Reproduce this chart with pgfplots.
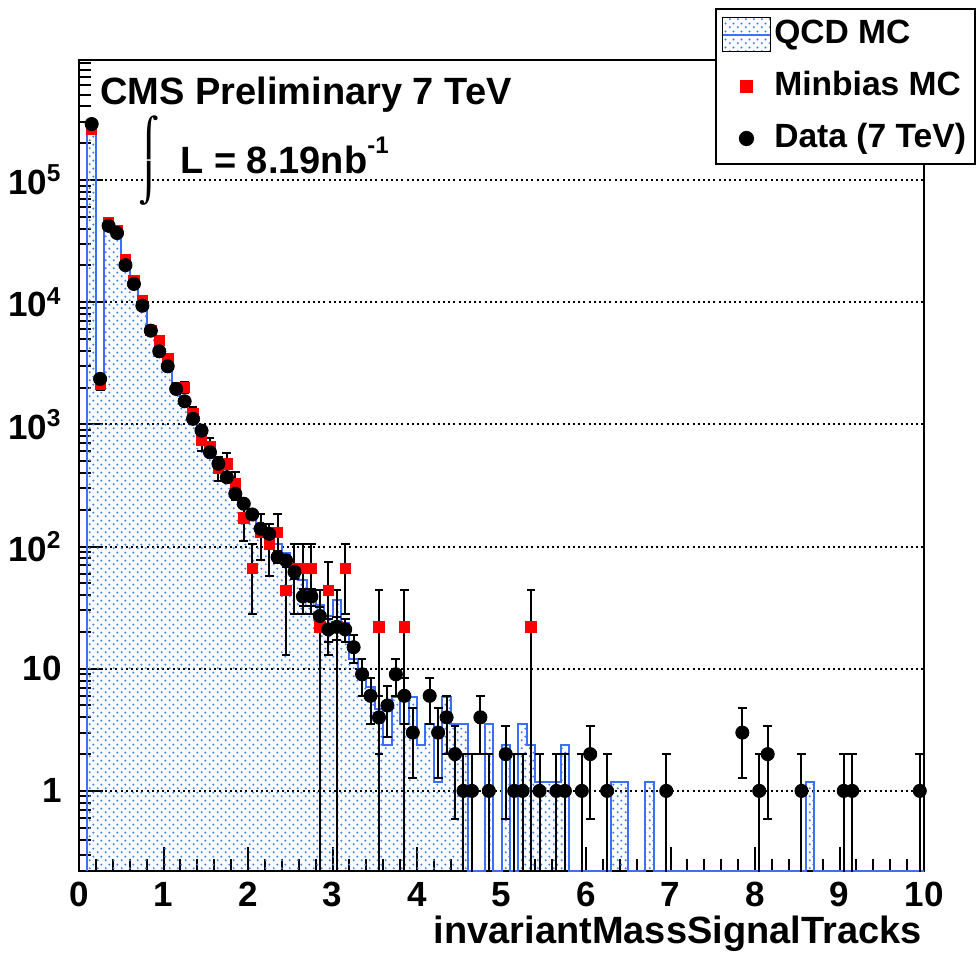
\documentclass[border=0pt]{standalone}
\usepackage{fontspec}
\setmainfont{Liberation Sans}
\newfontfamily\djv{DejaVu Sans}
\usepackage{pgfplots}
\pgfplotsset{compat=1.18}
\usetikzlibrary{patterns.meta}
\definecolor{qcdblue}{RGB}{60,110,255}
\definecolor{qcddot}{RGB}{70,125,255}
\tikzdeclarepattern{
  name=mydots,
  type=uncolored,
  bottom left={(0pt,0pt)},
  top right={(4pt,4pt)},
  tile size={(4pt,4pt)},
  code={
    \pgfpathcircle{\pgfpoint{1pt}{1pt}}{0.62pt}
    \pgfpathcircle{\pgfpoint{3pt}{3pt}}{0.62pt}
    \pgfusepath{fill}
  }
}
\begin{document}
\begin{tikzpicture}
\begin{axis}[
  name=ax, at={(0,0)}, anchor=south west,
  scale only axis, width=422.5pt, height=405.5pt,
  ymode=log, xmin=0, xmax=10, ymin=0.221, ymax=9.6e5,
  axis line style={line width=1pt},
  tick pos=left, tick align=inside,
  xtick={0,1,2,3,4,5,6,7,8,9,10},
  xticklabels={0,1,2,3,4,5,6,7,8,9,10},
  minor x tick num=4,
  ytick={1,10,100,1000,10000,100000},
  yticklabels={1,10,10\textsuperscript{2},10\textsuperscript{3},10\textsuperscript{4},10\textsuperscript{5}},
  minor ytick={0.3,0.4,0.5,0.6,0.7,0.8,0.9,2,3,4,5,6,7,8,9,20,30,40,50,60,70,80,90,200,300,400,500,600,700,800,900,2000,3000,4000,5000,6000,7000,8000,9000,20000,30000,40000,50000,60000,70000,80000,90000,200000,300000,400000,500000,600000,700000,800000,900000},
  major tick length=12pt, minor tick length=6pt,
  tick style={black, line width=1pt},
  ymajorgrids,
  major grid style={black, line width=1pt, dash pattern=on 1pt off 1.6pt},
  every tick label/.append style={font=\fontsize{17.5}{20}\selectfont\bfseries},
  xticklabel style={anchor=north, inner sep=0pt, yshift=-5.5pt},
  yticklabel style={anchor=east, inner sep=0pt, xshift=-8.5pt},
  legend style={at={(1.0615,1.0641)}, anchor=north east, draw=black, line width=1pt, fill=white,
    font=\fontsize{16.8}{19}\selectfont\bfseries, inner xsep=3pt, inner ysep=3.5pt, row sep=7.5pt,
    nodes={inner sep=1.5pt, text height=12pt, text depth=3.5pt},
    /tikz/every even column/.append style={column sep=3pt}},
  legend cell align=left,
]
% QCD MC histogram (bin left edges, step)
\addplot[const plot, draw=qcdblue, line width=1pt, pattern=mydots, pattern color=qcddot,
  legend image code/.code={\draw[black,line width=0.8pt,pattern=mydots,pattern color=qcddot] (0pt,-8.5pt) rectangle (24pt,8.5pt); \draw[qcdblue,line width=1pt] (0.4pt,0pt) -- (23.6pt,0pt);}]
coordinates {
(0.1,0.221) (0.1,270000) (0.2,2200) (0.3,41000) (0.4,36300) (0.5,20500) (0.6,13800)
(0.7,9300) (0.8,6000) (0.9,4100) (1.0,3000) (1.1,2000) (1.2,1500) (1.3,1100) (1.4,850)
(1.5,620) (1.6,470) (1.7,360) (1.8,270) (1.9,215) (2.0,175) (2.1,140) (2.2,112) (2.3,105)
(2.4,88) (2.5,65) (2.6,53) (2.7,43) (2.8,33) (2.9,27) (3.0,36.6) (3.1,23.6) (3.2,12.1)
(3.3,9.4) (3.4,7.1) (3.5,4.72) (3.6,2.36) (3.7,5.9) (3.8,3.54) (3.9,5.9) (4.0,2.36)
(4.1,3.54) (4.2,1.18) (4.3,5.9) (4.4,3.54) (4.5,3.54) (4.6,0.221) (4.8,3.54) (4.9,0.221)
(5.0,2.36) (5.1,0.221) (5.2,3.54) (5.3,2.36) (5.4,1.18) (5.7,2.36) (5.8,0.221)
(6.3,1.18) (6.5,0.221) (6.7,1.18) (6.8,0.221) (8.6,1.18) (8.7,0.221) (10,0.221)
};
\addlegendentry{QCD MC}
% Minbias MC
\addplot[only marks, mark=square*, mark size=2.6pt, red,
  legend image code/.code={\draw[mark repeat=2,mark phase=2] plot coordinates {(0pt,0pt) (12pt,0pt) (24pt,0pt)};},
  error bars/.cd, y dir=both, y explicit,
  error bar style={black, line width=1pt},
  error mark options={rotate=90, black, line width=1pt, mark size=2.2pt}]
coordinates {
(0.15,260000) += (0,2392) -= (0,2392)
(0.25,2140) += (0,217) -= (0,217)
(0.35,44900) += (0,994) -= (0,994)
(0.45,38500) += (0,920) -= (0,920)
(0.55,22500) += (0,704) -= (0,704)
(0.65,15000) += (0,574) -= (0,574)
(0.75,10300) += (0,476) -= (0,476)
(0.85,5900) += (0,360) -= (0,360)
(0.95,4840) += (0,326) -= (0,326)
(1.05,3470) += (0,276) -= (0,276)
(1.15,1980) += (0,209) -= (0,209)
(1.25,2010) += (0,210) -= (0,210)
(1.35,1220) += (0,164) -= (0,164)
(1.45,738) += (0,127) -= (0,127)
(1.55,660) += (0,120) -= (0,120)
(1.65,440) += (0,98) -= (0,98)
(1.75,476) += (0,102) -= (0,102)
(1.85,326) += (0,85) -= (0,85)
(1.95,172) += (0,61.5) -= (0,61.5)
(2.05,66) += (0,38) -= (0,38)
(2.15,132) += (0,54) -= (0,54)
(2.25,105) += (0,48) -= (0,48)
(2.35,130) += (0,53.5) -= (0,53.5)
(2.45,44) += (0,31) -= (0,31)
(2.55,66) += (0,38) -= (0,38)
(2.65,66) += (0,38) -= (0,38)
(2.75,66) += (0,38) -= (0,38)
(2.85,22) += (0,22) -= (0,21.99)
(2.95,44) += (0,31) -= (0,31)
(3.05,22) += (0,22) -= (0,21.99)
(3.15,66) += (0,38) -= (0,38)
(3.55,22) += (0,22) -= (0,21.99)
(3.85,22) += (0,22) -= (0,21.99)
(5.35,22) += (0,22) -= (0,21.99)
};
\addlegendentry{Minbias MC}
% Data
\addplot[only marks, mark=*, mark size=3.3pt, black,
  legend image code/.code={\draw[mark repeat=2,mark phase=2] plot coordinates {(0pt,0pt) (12pt,0pt) (24pt,0pt)};},
  error bars/.cd, y dir=both, y explicit,
  error bar style={black, line width=1pt},
  error mark options={rotate=90, black, line width=1pt, mark size=2.2pt}]
coordinates {
(0.15,287000) += (0,536) -= (0,536)
(0.25,2355) += (0,48.5) -= (0,48.5)
(0.35,42200) += (0,205) -= (0,205)
(0.45,36800) += (0,192) -= (0,192)
(0.55,20100) += (0,142) -= (0,142)
(0.65,14100) += (0,119) -= (0,119)
(0.75,9360) += (0,97) -= (0,97)
(0.85,5850) += (0,76) -= (0,76)
(0.95,3960) += (0,63) -= (0,63)
(1.05,2985) += (0,55) -= (0,55)
(1.15,1950) += (0,44) -= (0,44)
(1.25,1545) += (0,39) -= (0,39)
(1.35,1110) += (0,33) -= (0,33)
(1.45,889) += (0,30) -= (0,30)
(1.55,591) += (0,24) -= (0,24)
(1.65,476) += (0,22) -= (0,22)
(1.75,369) += (0,19) -= (0,19)
(1.85,270) += (0,16) -= (0,16)
(1.95,224) += (0,15) -= (0,15)
(2.05,183) += (0,13.5) -= (0,13.5)
(2.15,140) += (0,11.8) -= (0,11.8)
(2.25,127) += (0,11.3) -= (0,11.3)
(2.35,82) += (0,9.1) -= (0,9.1)
(2.45,77) += (0,8.8) -= (0,8.8)
(2.55,62) += (0,7.9) -= (0,7.9)
(2.65,39) += (0,6.2) -= (0,6.2)
(2.75,39) += (0,6.2) -= (0,6.2)
(2.85,27) += (0,5.2) -= (0,5.2)
(2.95,21) += (0,4.6) -= (0,4.6)
(3.05,22) += (0,4.7) -= (0,4.7)
(3.15,21) += (0,4.6) -= (0,4.6)
(3.25,15) += (0,3.9) -= (0,3.9)
(3.35,9) += (0,3) -= (0,3)
(3.45,6) += (0,2.45) -= (0,2.45)
(3.55,4) += (0,2) -= (0,2)
(3.65,5) += (0,2.24) -= (0,2.24)
(3.75,9) += (0,3) -= (0,3)
(3.85,6) += (0,2.45) -= (0,2.45)
(3.95,3) += (0,1.73) -= (0,1.73)
(4.15,6) += (0,2.45) -= (0,2.45)
(4.25,3) += (0,1.73) -= (0,1.73)
(4.35,4) += (0,2) -= (0,2)
(4.45,2) += (0,1.41) -= (0,1.41)
(4.55,1) += (0,1) -= (0,0.999)
(4.65,1) += (0,1) -= (0,0.999)
(4.75,4) += (0,2) -= (0,2)
(4.85,1) += (0,1) -= (0,0.999)
(5.05,2) += (0,1.41) -= (0,1.41)
(5.15,1) += (0,1) -= (0,0.999)
(5.25,1) += (0,1) -= (0,0.999)
(5.45,1) += (0,1) -= (0,0.999)
(5.65,1) += (0,1) -= (0,0.999)
(5.75,1) += (0,1) -= (0,0.999)
(5.95,1) += (0,1) -= (0,0.999)
(6.05,2) += (0,1.41) -= (0,1.41)
(6.25,1) += (0,1) -= (0,0.999)
(6.95,1) += (0,1) -= (0,0.999)
(7.85,3) += (0,1.73) -= (0,1.73)
(8.05,1) += (0,1) -= (0,0.999)
(8.15,2) += (0,1.41) -= (0,1.41)
(8.55,1) += (0,1) -= (0,0.999)
(9.05,1) += (0,1) -= (0,0.999)
(9.15,1) += (0,1) -= (0,0.999)
(9.95,1) += (0,1) -= (0,0.999)
};
\addlegendentry{Data (7 TeV)}
\end{axis}
\node[anchor=base west, inner sep=0pt, font=\fontsize{19}{22}\selectfont\bfseries]
  at ([xshift=10.5pt,yshift=383pt]ax.south west) {CMS Preliminary 7 TeV};
\node[anchor=north west, inner sep=0pt, align=left, font=\djv\fontsize{18.7}{21.77}\selectfont]
  at ([xshift=30pt,yshift=378pt]ax.south west) {⌠\\⌡};
\node[anchor=base west, inner sep=0pt, font=\fontsize{19}{22}\selectfont\bfseries]
  at ([xshift=50.5pt,yshift=348.8pt]ax.south west) {L = 8.19nb\raisebox{10pt}{\fontsize{12}{12}\selectfont -1}};
\node[anchor=base east, inner sep=0pt, font=\fontsize{19}{22}\selectfont\bfseries]
  at ([xshift=-1pt,yshift=-36pt]ax.south east) {invariantMassSignalTracks};
\pgfresetboundingbox
\path (-39.5pt,-43pt) rectangle (449.5pt,435.5pt);
\end{tikzpicture}
\end{document}
